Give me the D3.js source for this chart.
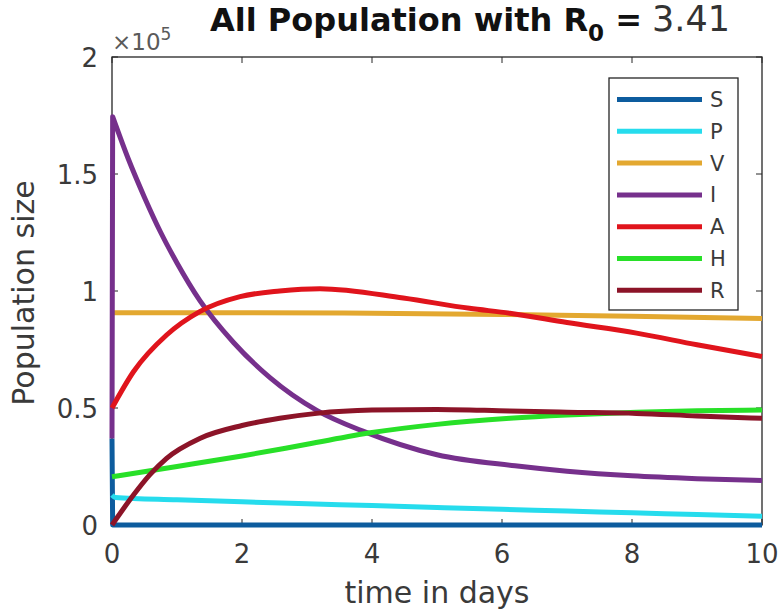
<!DOCTYPE html>
<html><head><meta charset="utf-8">
<script src="https://cdn.jsdelivr.net/npm/d3@7"></script>
<style>
html,body{margin:0;padding:0;background:#fff;}
svg{display:block;}
text{font-family:"DejaVu Sans",sans-serif;}
</style></head>
<body>
<svg id="chart" width="781" height="615"></svg>
<script>
// ---- data (population in units of 1e5) ----
const seriesNames = ["S","P","V","I","A","H","R"];
const seriesColors = ["#0d5c9e","#26dced","#e3a830","#76308c","#e0141c","#28e028","#8c1428"];
const tS = [0, 0.01, 10];
const vS = [0.37, 0, 0];
const tP = [0, 0.05, 1, 2, 3, 4, 5, 6, 7, 8, 9, 10];
const vP = [0.128, 0.118, 0.108, 0.099, 0.091, 0.083, 0.075, 0.067, 0.06, 0.052, 0.045, 0.037];
const tV = [0, 2, 4, 6, 8, 10];
const vV = [0.907, 0.907, 0.905, 0.9, 0.892, 0.883];
const tI = [0, 0.01, 0.25, 0.5, 0.75, 1.0, 1.35, 1.87, 2.43, 3.15, 3.87, 5, 6.2, 7, 8, 9, 10];
const vI = [0.37, 1.745, 1.565, 1.4, 1.25, 1.12, 0.96, 0.78, 0.63, 0.49, 0.40, 0.30, 0.253, 0.23, 0.21, 0.198, 0.19];
const tA = [0, 0.33, 0.84, 1.35, 1.97, 2.58, 3.2, 4.48, 5.5, 6.12, 7, 8.07, 9, 10];
const vA = [0.50, 0.655, 0.812, 0.912, 0.976, 1.0, 1.01, 0.97, 0.926, 0.905, 0.865, 0.82, 0.77, 0.72];
const tH = [0, 1, 2, 3, 4, 5, 6.12, 7, 8.07, 9, 10];
const vH = [0.206, 0.25, 0.295, 0.345, 0.395, 0.43, 0.456, 0.47, 0.482, 0.488, 0.491];
const tR = [0, 0.33, 0.58, 0.84, 1.35, 2, 2.58, 3.15, 4, 5, 6.12, 7, 8.07, 9, 10];
const vR = [0, 0.128, 0.214, 0.285, 0.37, 0.425, 0.456, 0.477, 0.491, 0.494, 0.487, 0.482, 0.477, 0.466, 0.456];
const xTicks = [0, 2, 4, 6, 8, 10];
const yTicks = [0, 0.5, 1, 1.5, 2];
const yTickLabels = ["0", "0.5", "1", "1.5", "2"];

const seriesT = [tS, tP, tV, tI, tA, tH, tR];
const seriesV = [vS, vP, vV, vI, vA, vH, vR];

// ---- layout ----
const svg = d3.select("#chart");
const L = 112, Rr = 762, T = 57, B = 525;
const x = d3.scaleLinear().domain([0, 10]).range([L, Rr]);
const y = d3.scaleLinear().domain([0, 2]).range([B, T]);
const axisColor = "#262626";
const textColor = "#3a3a3a";
const lw = 5;

// box frame
const frame = svg.append("g");
frame.append("rect").attr("x", L).attr("y", T).attr("width", Rr - L).attr("height", B - T)
  .attr("fill", "none").attr("stroke", axisColor).attr("stroke-width", 1.3);
const tickLen = 6;
xTicks.forEach(t => {
  frame.append("line").attr("x1", x(t)).attr("x2", x(t)).attr("y1", B).attr("y2", B - tickLen)
    .attr("stroke", axisColor).attr("stroke-width", 1);
  frame.append("line").attr("x1", x(t)).attr("x2", x(t)).attr("y1", T).attr("y2", T + tickLen)
    .attr("stroke", axisColor).attr("stroke-width", 1);
});
yTicks.forEach(v => {
  frame.append("line").attr("x1", L).attr("x2", L + tickLen).attr("y1", y(v)).attr("y2", y(v))
    .attr("stroke", axisColor).attr("stroke-width", 1);
  frame.append("line").attr("x1", Rr).attr("x2", Rr - tickLen).attr("y1", y(v)).attr("y2", y(v))
    .attr("stroke", axisColor).attr("stroke-width", 1);
});

// lines: a near-vertical start (t≈0 jump) is drawn straight, the rest smooth
const smooth = d3.line().x(d => x(d[0])).y(d => y(d[1])).curve(d3.curveMonotoneX);
const g = svg.append("g");
seriesNames.forEach((n, i) => {
  const pts = seriesT[i].map((t, j) => [t, seriesV[i][j]]);
  let d;
  if (pts.length > 2 && pts[1][0] - pts[0][0] < 0.05) {
    d = "M" + x(pts[0][0]) + "," + y(pts[0][1]) + "L" + smooth(pts.slice(1)).slice(1);
  } else {
    d = smooth(pts);
  }
  g.append("path").attr("d", d)
    .attr("fill", "none").attr("stroke", seriesColors[i])
    .attr("stroke-width", lw).attr("stroke-linejoin", "round");
});

// tick labels
xTicks.forEach(t => {
  svg.append("text").attr("x", x(t)).attr("y", 563).attr("text-anchor", "middle")
    .attr("font-size", 26).attr("fill", textColor).text(t);
});
yTicks.forEach((v, i) => {
  svg.append("text").attr("x", 98).attr("y", y(v) + 9.5).attr("text-anchor", "end")
    .attr("font-size", 26).attr("fill", textColor).text(yTickLabels[i]);
});

// exponent
const ex = svg.append("text").attr("x", 112).attr("y", 50).attr("font-size", 23).attr("fill", "#5a5a5a");
ex.append("tspan").text("\u00d710");
ex.append("tspan").attr("dy", -10).attr("font-size", 17).text("5");

// axis labels
svg.append("text").attr("x", 437).attr("y", 603).attr("text-anchor", "middle")
  .attr("font-size", 30).attr("fill", textColor).text("time in days");
svg.append("text").attr("transform", "translate(34,293) rotate(-90)").attr("text-anchor", "middle")
  .attr("font-size", 30).attr("fill", textColor).text("Population size");

// title
const title = svg.append("text").attr("x", 210).attr("y", 31).attr("fill", "#111");
title.append("tspan").attr("font-weight", "bold").attr("font-size", 32).text("All Population with R");
title.append("tspan").attr("font-weight", "bold").attr("font-size", 23).attr("dy", 10).text("0");
title.append("tspan").attr("font-weight", "bold").attr("font-size", 32).attr("dy", -10).text(" =");
title.append("tspan").attr("x", 652).attr("font-size", 35).attr("fill", "#333").text("3.41");

// legend
const lg = svg.append("g");
lg.append("rect").attr("x", 609).attr("y", 78).attr("width", 129).attr("height", 232)
  .attr("fill", "#fff").attr("stroke", axisColor).attr("stroke-width", 1.3);
seriesNames.forEach((n, i) => {
  const yy = 99.5 + i * 31.8;
  lg.append("line").attr("x1", 617).attr("x2", 702).attr("y1", yy).attr("y2", yy)
    .attr("stroke", seriesColors[i]).attr("stroke-width", lw);
  lg.append("text").attr("x", 710).attr("y", yy + 7.5).attr("font-size", 21)
    .attr("fill", textColor).text(n);
});
</script>
</body></html>
